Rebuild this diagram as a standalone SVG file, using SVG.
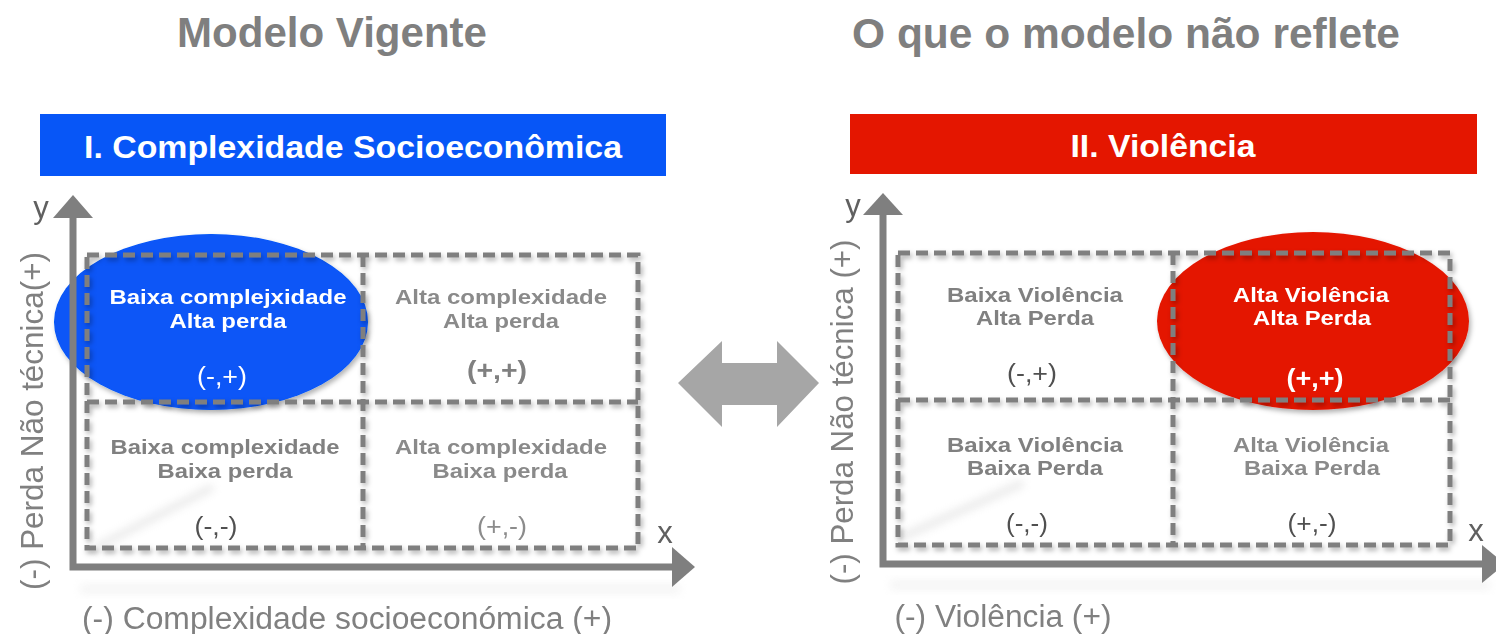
<svg xmlns="http://www.w3.org/2000/svg" width="1496" height="634" viewBox="0 0 1496 634">
<defs>
<style>
text{font-family:"Liberation Sans",Arial,sans-serif;text-anchor:middle}
.title{font-size:42px;font-weight:bold;fill:#7f7f7f}
.hdr{font-size:31px;font-weight:bold;fill:#ffffff}
.q{font-size:21px;font-weight:bold;fill:#8a8a8a}
.qd{font-size:21px;font-weight:bold;fill:#808080}
.w{font-size:21px;font-weight:bold;fill:#ffffff}
.c{font-size:25px;fill:#505050}
.cl{font-size:25px;fill:#8c8c8c}
.cb{font-size:25px;font-weight:bold;fill:#808080}
.cw{font-size:25px;fill:#ffffff}
.cwb{font-size:25px;font-weight:bold;fill:#ffffff}
.ax{font-size:31px;fill:#808080}
.xy{font-size:31px;fill:#606060}
.grid{fill:none;stroke:#7f7f7f;stroke-width:5;stroke-dasharray:12 6}
.axis{stroke:#7f7f7f;stroke-width:7;fill:none}
.head{fill:#7f7f7f}
</style>
<filter id="sh" x="-10%" y="-10%" width="130%" height="130%">
<feDropShadow dx="2" dy="3" stdDeviation="2.5" flood-color="#000" flood-opacity="0.3"/>
</filter>
<filter id="blur" x="-20%" y="-50%" width="140%" height="200%">
<feGaussianBlur stdDeviation="4"/>
</filter>
</defs>
<rect width="1496" height="634" fill="#ffffff"/>

<g id="titles">
<text class="title" x="332" y="47" textLength="310" lengthAdjust="spacingAndGlyphs">Modelo Vigente</text>
<text class="title" x="1126" y="48" textLength="548" lengthAdjust="spacingAndGlyphs">O que o modelo não reflete</text>
</g>

<g id="header-left">
<rect x="40" y="114" width="626" height="62" fill="#0756f7"/>
<text class="hdr" x="353" y="158" textLength="538" lengthAdjust="spacingAndGlyphs">I. Complexidade Socioeconômica</text>
</g>
<g id="header-right">
<rect x="850" y="114" width="627" height="60" fill="#e41600"/>
<text class="hdr" x="1163" y="157" textLength="185" lengthAdjust="spacingAndGlyphs">II. Violência</text>
</g>

<g id="reflections" opacity="0.4">
<line x1="95" y1="548" x2="213" y2="487" stroke="#c8c8c8" stroke-width="7" filter="url(#blur)"/>
<line x1="902" y1="537" x2="1023" y2="483" stroke="#c8c8c8" stroke-width="7" filter="url(#blur)"/>
<rect x="80" y="584" width="600" height="10" fill="#e6e6e6" filter="url(#blur)"/>
<rect x="890" y="580" width="600" height="10" fill="#e6e6e6" filter="url(#blur)"/>
</g>

<g id="highlight-left">
<ellipse cx="211" cy="322" rx="157" ry="88" fill="#0756f7" filter="url(#sh)"/>
</g>
<g id="highlight-right">
<ellipse cx="1313" cy="321" rx="156" ry="89" fill="#e41600" filter="url(#sh)"/>
</g>

<g id="grid-left" filter="url(#sh)">
<rect class="grid" x="87" y="255" width="551" height="293"/>
<line class="grid" x1="363" y1="255" x2="363" y2="548"/>
<line class="grid" x1="87" y1="402" x2="638" y2="402"/>
</g>
<g id="grid-right" filter="url(#sh)">
<rect class="grid" x="898" y="253" width="552" height="292"/>
<line class="grid" x1="1173" y1="253" x2="1173" y2="545"/>
<line class="grid" x1="898" y1="400" x2="1450" y2="400"/>
</g>

<g id="connectors">
<polyline class="axis" points="73,216 73,567 674,567"/>
<polygon class="head" points="53,218 73,195 93,218"/>
<polygon class="head" points="672,547 695,567 672,587"/>
<polyline class="axis" points="883,213 883,564 1484,564"/>
<polygon class="head" points="863,215 883,193 903,215"/>
<polygon class="head" points="1482,545 1505,564 1482,583"/>
<polygon fill="#a6a6a6" points="678,383 722,341 722,363 777,363 777,341 819,383 777,427 777,405 722,405 722,427"/>
</g>

<g id="axis-labels-left">
<text class="xy" x="41" y="218">y</text>
<text class="xy" x="665" y="543">x</text>
<text class="ax" transform="translate(43,421) rotate(-90)" textLength="338" lengthAdjust="spacingAndGlyphs">(-) Perda Não técnica(+)</text>
<text class="ax" x="347" y="629" textLength="530" lengthAdjust="spacingAndGlyphs">(-) Complexidade socioeconómica (+)</text>
</g>
<g id="axis-labels-right">
<text class="xy" x="853" y="216">y</text>
<text class="xy" x="1476" y="541">x</text>
<text class="ax" transform="translate(853,412) rotate(-90)" textLength="345" lengthAdjust="spacingAndGlyphs">(-) Perda Não técnica (+)</text>
<text class="ax" x="1003" y="627" textLength="217" lengthAdjust="spacingAndGlyphs">(-) Violência (+)</text>
</g>

<g id="q-left-tl">
<text class="w" x="228" y="304" textLength="237" lengthAdjust="spacingAndGlyphs">Baixa complejxidade</text>
<text class="w" x="228" y="328" textLength="117" lengthAdjust="spacingAndGlyphs">Alta perda</text>
<text class="cw" x="222" y="385" textLength="50" lengthAdjust="spacingAndGlyphs">(-,+)</text>
</g>
<g id="q-left-tr">
<text class="q" x="501" y="304" textLength="212" lengthAdjust="spacingAndGlyphs">Alta complexidade</text>
<text class="q" x="501" y="328" textLength="116" lengthAdjust="spacingAndGlyphs">Alta perda</text>
<text class="cb" x="497" y="379" textLength="60" lengthAdjust="spacingAndGlyphs">(+,+)</text>
</g>
<g id="q-left-bl">
<text class="qd" x="225" y="454" textLength="229" lengthAdjust="spacingAndGlyphs">Baixa complexidade</text>
<text class="qd" x="225" y="478" textLength="135" lengthAdjust="spacingAndGlyphs">Baixa perda</text>
<text class="c" x="216" y="535" textLength="43" lengthAdjust="spacingAndGlyphs">(-,-)</text>
</g>
<g id="q-left-br">
<text class="q" x="501" y="454" textLength="212" lengthAdjust="spacingAndGlyphs">Alta complexidade</text>
<text class="q" x="500" y="478" textLength="135" lengthAdjust="spacingAndGlyphs">Baixa perda</text>
<text class="cl" x="502" y="535" textLength="50" lengthAdjust="spacingAndGlyphs">(+,-)</text>
</g>

<g id="q-right-tl">
<text class="qd" x="1035" y="302" textLength="176" lengthAdjust="spacingAndGlyphs">Baixa Violência</text>
<text class="qd" x="1035" y="325" textLength="118" lengthAdjust="spacingAndGlyphs">Alta Perda</text>
<text class="c" x="1032" y="382" textLength="50" lengthAdjust="spacingAndGlyphs">(-,+)</text>
</g>
<g id="q-right-tr">
<text class="w" x="1311" y="302" textLength="156" lengthAdjust="spacingAndGlyphs">Alta Violência</text>
<text class="w" x="1312" y="325" textLength="118" lengthAdjust="spacingAndGlyphs">Alta Perda</text>
<text class="cwb" x="1315" y="387" textLength="57" lengthAdjust="spacingAndGlyphs">(+,+)</text>
</g>
<g id="q-right-bl">
<text class="qd" x="1035" y="452" textLength="176" lengthAdjust="spacingAndGlyphs">Baixa Violência</text>
<text class="qd" x="1035" y="475" textLength="136" lengthAdjust="spacingAndGlyphs">Baixa Perda</text>
<text class="c" x="1027" y="532" textLength="42" lengthAdjust="spacingAndGlyphs">(-,-)</text>
</g>
<g id="q-right-br">
<text class="q" x="1311" y="452" textLength="156" lengthAdjust="spacingAndGlyphs">Alta Violência</text>
<text class="q" x="1312" y="475" textLength="136" lengthAdjust="spacingAndGlyphs">Baixa Perda</text>
<text class="c" x="1312" y="532" textLength="49" lengthAdjust="spacingAndGlyphs">(+,-)</text>
</g>
</svg>
